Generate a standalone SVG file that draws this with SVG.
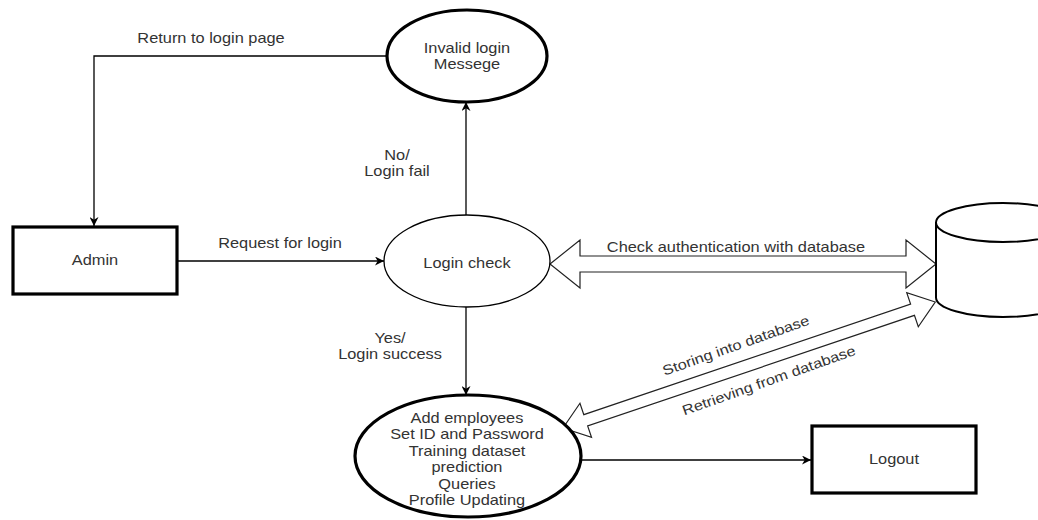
<svg xmlns="http://www.w3.org/2000/svg" width="1038" height="520" viewBox="0 0 1038 520">
<defs>
<marker id="arr" viewBox="0 0 10 10" refX="10" refY="5" markerWidth="9" markerHeight="9" markerUnits="userSpaceOnUse" orient="auto">
<path d="M0,0 L10,5 L0,10 L3,5 z" fill="#000"/>
</marker>
<style>
.t{font-family:"Liberation Sans",Arial,sans-serif;font-size:14px;fill:#333;text-anchor:middle}
.thick{fill:#fff;stroke:#000;stroke-width:3.2}
.thin{fill:#fff;stroke:#000;stroke-width:1.3}
.edge{fill:none;stroke:#000;stroke-width:1.3}
.flex{fill:#fff;stroke:#222;stroke-width:1.2;stroke-linejoin:miter}
</style>
</defs>
<rect width="1038" height="520" fill="#fff"/>
<g id="connectors">
<path class="edge" d="M387,56 H94 V226" marker-end="url(#arr)"/>
<path class="edge" d="M177,261 H384" marker-end="url(#arr)"/>
<path class="edge" d="M466,215 V102" marker-end="url(#arr)"/>
<path class="edge" d="M466,307 V395" marker-end="url(#arr)"/>
<path class="edge" d="M581,460 H811" marker-end="url(#arr)"/>
<polygon class="flex" points="550,264 580,240 580,256 906,256 906,240 936,264 906,288 906,272 580,272 580,288"/>
<polygon class="flex" transform="translate(563,428) rotate(-18.7)" points="0,0 24,-18 24,-6 369,-6 369,-18 393,0 369,18 369,6 24,6 24,18"/>
<text class="t" transform="translate(211,43) scale(1.17,1)">Return to login page</text>
<text class="t" transform="translate(280,248) scale(1.17,1)">Request for login</text>
<text class="t" transform="translate(397,160) scale(1.17,1)"><tspan x="0" y="0">No/</tspan><tspan x="0" dy="16.5">Login fail</tspan></text>
<text class="t" transform="translate(390,343) scale(1.17,1)"><tspan x="0" y="0">Yes/</tspan><tspan x="0" dy="16">Login success</tspan></text>
<text class="t" transform="translate(736,252) scale(1.17,1)">Check authentication with database</text>
<text class="t" transform="translate(737.5,350) rotate(-19.5) scale(1.17,1)">Storing into database</text>
<text class="t" transform="translate(770.5,385) rotate(-19.5) scale(1.17,1)">Retrieving from database</text>
</g>
<g id="invalid-login">
<ellipse class="thick" cx="467" cy="56" rx="80" ry="46"/>
<text class="t" transform="translate(467,53) scale(1.17,1)"><tspan x="0" y="0">Invalid login</tspan><tspan x="0" dy="16.5">Messege</tspan></text>
</g>
<g id="admin">
<rect class="thick" x="13" y="227" width="164" height="67"/>
<text class="t" transform="translate(95,265) scale(1.17,1)">Admin</text>
</g>
<g id="login-check">
<ellipse class="thin" cx="467" cy="261" rx="83" ry="46"/>
<text class="t" transform="translate(467,268) scale(1.17,1)">Login check</text>
</g>
<g id="database">
<path fill="#fff" stroke="#000" stroke-width="2" d="M936,222.5 V297.5 A67,19.5 0 0 0 1070,297.5 V222.5"/>
<ellipse fill="#fff" stroke="#000" stroke-width="2" cx="1003" cy="222.5" rx="67" ry="19.5"/>
</g>
<g id="admin-functions">
<ellipse class="thick" cx="468" cy="456" rx="113" ry="61"/>
<text class="t" transform="translate(467,422.7) scale(1.17,1)"><tspan x="0" y="0">Add employees</tspan><tspan x="0" dy="16.5">Set ID and Password</tspan><tspan x="0" dy="16.5">Training dataset</tspan><tspan x="0" dy="16.5">prediction</tspan><tspan x="0" dy="16.5">Queries</tspan><tspan x="0" dy="16.5">Profile Updating</tspan></text>
</g>
<g id="logout">
<rect class="thick" x="812" y="426" width="164" height="67"/>
<text class="t" transform="translate(894,464) scale(1.17,1)">Logout</text>
</g>
</svg>
